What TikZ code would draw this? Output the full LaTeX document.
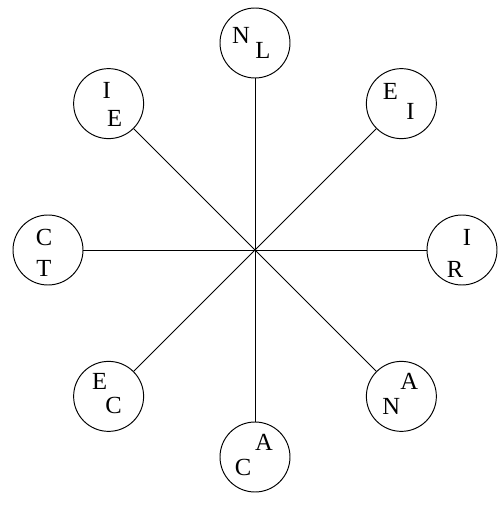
\documentclass[tikz,border=0pt]{standalone}
\usepackage{fontspec}
\setmainfont{Liberation Serif}
\usetikzlibrary{calc}

\begin{document}
\begin{tikzpicture}[
    station/.style={draw, circle, line width=0.55pt, minimum size=1.4cm, inner sep=0pt},
    spoke/.style={line width=0.5pt},
    letter/.style={inner sep=0pt, font=\fontsize{14}{16}\selectfont}
]
\useasboundingbox (-5.1,-5.1) rectangle (4.98,5.0);

\coordinate (hub) at (0,0);

\node[station] (north) at (90:4.14) {};
\node[station] (northeast) at (45:4.14) {};
\node[station] (east) at (0:4.14) {};
\node[station] (southeast) at (-45:4.14) {};
\node[station] (south) at (-90:4.14) {};
\node[station] (southwest) at (-135:4.14) {};
\node[station] (west) at (180:4.14) {};
\node[station] (northwest) at (135:4.14) {};

\foreach \s in {north, northeast, east, southeast, south, southwest, west, northwest}
    \draw[spoke] (hub) -- (\s);

\node[letter] (n1) at ($(north)+(-0.28,0.16)$) {N};
\node[letter] (n2) at ($(north)+(0.16,-0.14)$) {L};
\node[letter] (ne1) at ($(northeast)+(-0.22,0.24)$) {E};
\node[letter] (ne2) at ($(northeast)+(0.18,-0.16)$) {I};
\node[letter] (e1) at ($(east)+(0.10,0.26)$) {I};
\node[letter] (e2) at ($(east)+(-0.14,-0.38)$) {R};
\node[letter] (se1) at ($(southeast)+(0.16,0.30)$) {A};
\node[letter] (se2) at ($(southeast)+(-0.20,-0.20)$) {N};
\node[letter] (s1) at ($(south)+(0.18,0.30)$) {A};
\node[letter] (s2) at ($(south)+(-0.24,-0.20)$) {C};
\node[letter] (sw1) at ($(southwest)+(-0.18,0.30)$) {E};
\node[letter] (sw2) at ($(southwest)+(0.10,-0.18)$) {C};
\node[letter] (w1) at ($(west)+(-0.08,0.26)$) {C};
\node[letter] (w2) at ($(west)+(-0.08,-0.36)$) {T};
\node[letter] (nw1) at ($(northwest)+(-0.04,0.26)$) {I};
\node[letter] (nw2) at ($(northwest)+(0.12,-0.30)$) {E};

\end{tikzpicture}
\end{document}
